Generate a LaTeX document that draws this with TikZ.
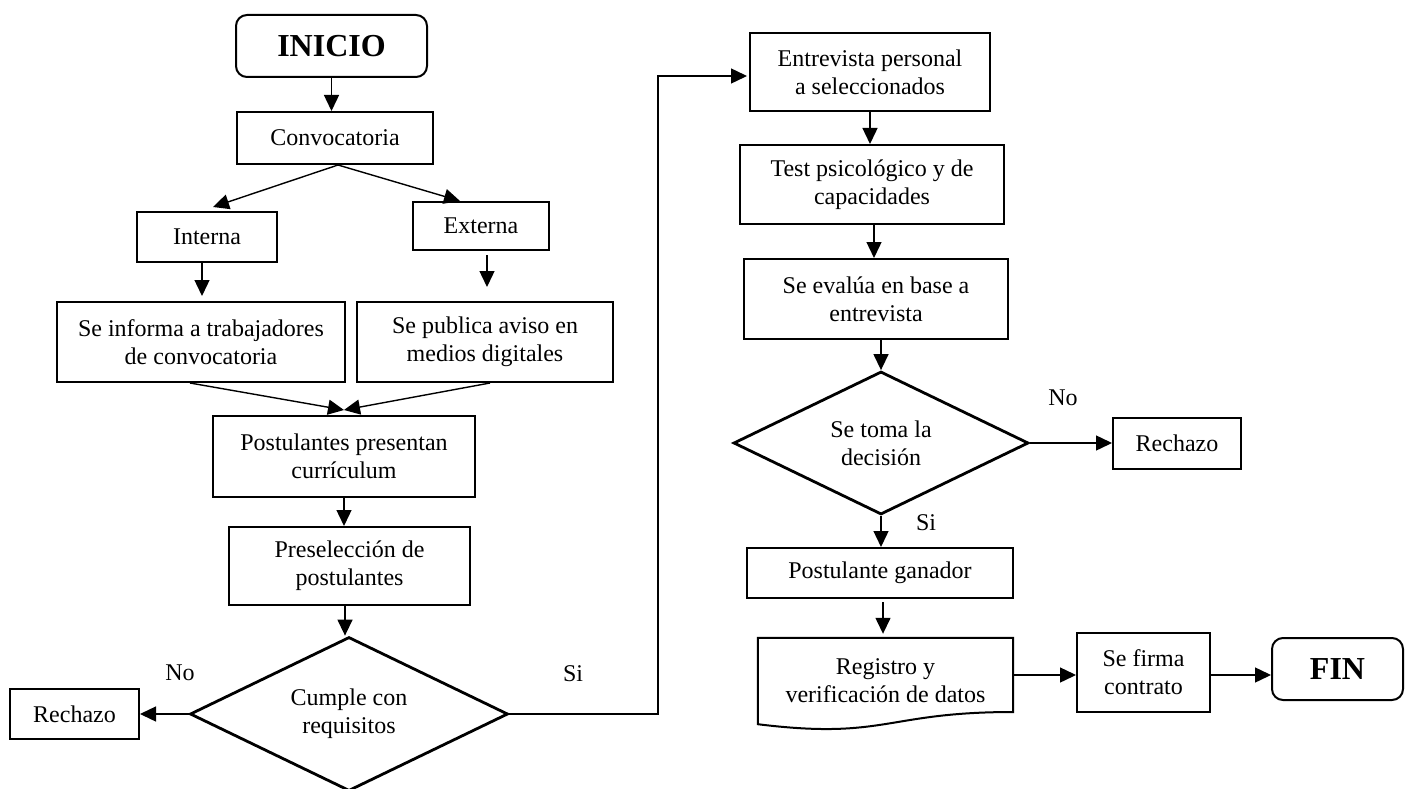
\documentclass[tikz,border=0pt]{standalone}
\usepackage{fontspec}
\setmainfont{Liberation Serif}
\usetikzlibrary{arrows.meta,shapes.geometric}

\begin{document}
\begin{tikzpicture}[x=1pt,y=-1pt,
  font=\fontsize{24}{28}\selectfont,
  proc/.style={draw, line width=2pt, inner sep=0pt, align=center},
  term/.style={draw, line width=2pt, rounded corners=11pt, inner sep=0pt,
               font=\fontsize{32}{36}\selectfont\bfseries},
  decis/.style={draw, diamond, aspect=2, line width=2.8pt, inner sep=0pt, align=center},
  conn/.style={line width=1.4pt, -{Triangle[length=16pt,width=15pt]}},
  lbl/.style={inner sep=0pt}]
\useasboundingbox (0,0) rectangle (1407,789);

% ---- left column ----
\node[term, minimum width=191pt, minimum height=62pt] (inicio) at (331.5,46) {INICIO};
\node[proc, minimum width=196pt, minimum height=52pt] (conv) at (335,138) {Convocatoria};
\node[proc, minimum width=140pt, minimum height=50pt] (interna) at (207,237) {Interna};
\node[proc, minimum width=136pt, minimum height=48pt] (externa) at (481,226) {Externa};
\node[proc, minimum width=288pt, minimum height=80pt] (informa) at (201,342)
  {Se informa a trabajadores\\de convocatoria};
\node[proc, minimum width=256pt, minimum height=80pt] (publica) at (485,342)
  {Se publica aviso en\\medios digitales};
\node[proc, minimum width=262pt, minimum height=81pt] (postul) at (344,456.5)
  {Postulantes presentan\\currículum};
\node[proc, minimum width=241pt, minimum height=78pt] (presel) at (349.5,566)
  {Preselección de\\postulantes};
\node[decis, minimum width=318pt, minimum height=154pt] (cumple) at (349,714)
  {Cumple con\\requisitos};
\node[proc, minimum width=129pt, minimum height=50pt] (rech1) at (74.5,714) {Rechazo};

% ---- right column ----
\node[proc, minimum width=240pt, minimum height=78pt] (entrev) at (870,72)
  {Entrevista personal\\a seleccionados};
\node[proc, minimum width=264pt, minimum height=79pt] (test) at (872,184.5)
  {Test psicológico y de\\capacidades};
\node[proc, minimum width=264pt, minimum height=80pt] (evalua) at (876,299)
  {Se evalúa en base a\\entrevista};
\node[decis, minimum width=295pt, minimum height=143pt] (decide) at (881,443)
  {Se toma la\\decisión};
\node[proc, minimum width=128pt, minimum height=51pt] (rech2) at (1177,443) {Rechazo};
\node[proc, minimum width=266pt, minimum height=50pt] (ganador) at (880,573)
  {Postulante ganador};
\node[inner sep=0pt, minimum width=255pt, minimum height=86pt, align=center]
  (registro) at (885.5,681) {Registro y\\verificación de datos};
\draw[line width=2pt, line join=miter]
  (registro.north west) -- (registro.north east) -- (1013,712)
  .. controls (885.5,712) and (885.5,740) .. (registro.south west) -- cycle;
\node[proc, minimum width=133pt, minimum height=79pt] (firma) at (1143.5,672.5)
  {Se firma\\contrato};
\node[term, minimum width=131pt, minimum height=62pt] (fin) at (1337.5,669) {FIN};

% ---- branch labels ----
\node[lbl] (no1) at (180,673) {No};
\node[lbl] (si1) at (573,674) {Si};
\node[lbl] (no2) at (1063,398) {No};
\node[lbl] (si2) at (926,523) {Si};

% ---- connectors ----
\draw[conn] (inicio.south) -- (inicio.south |- conv.north);
\draw[conn] ([xshift=3pt]conv.south) -- ([xshift=6pt,yshift=4pt]interna.north);
\draw[conn] ([xshift=3pt]conv.south) -- ([xshift=-21pt]externa.north);
\draw[conn, shorten >=5pt] ([xshift=-5pt]interna.south) -- ([xshift=-5pt]interna.south |- informa.north);
\draw[conn, shorten <=4pt, shorten >=14pt] ([xshift=6pt]externa.south) -- ([xshift=6pt]externa.south |- publica.north);
\draw[conn] ([xshift=-11pt]informa.south) -- ([yshift=5pt]postul.north);
\draw[conn] ([xshift=5pt]publica.south) -- ([yshift=5pt]postul.north);
\draw[conn] (postul.south) -- (postul.south |- presel.north);
\draw[conn] ([xshift=-4pt]cumple.north |- presel.south) -- ([xshift=-4pt]cumple.north);
\draw[conn] (cumple.west) -- (rech1.east);
\draw[conn] (cumple.east) -| ([xshift=-91pt,yshift=-4pt]entrev.west) -- ([xshift=-2pt,yshift=-4pt]entrev.west);

\draw[conn] (entrev.south) -- (entrev.south |- test.north);
\draw[conn] ([xshift=2pt]test.south) -- ([xshift=2pt]test.south |- evalua.north);
\draw[conn] (decide.north |- evalua.south) -- (decide.north);
\draw[conn] (decide.east) -- (rech2.west);
\draw[conn] (decide.south) -- (decide.south |- ganador.north);
\draw[conn, shorten <=3pt, shorten >=4pt] ([xshift=3pt]ganador.south) -- ([xshift=3pt]ganador.south |- registro.north);
\draw[conn] ([yshift=6pt]registro.east) -- ([yshift=6pt]registro.east -| firma.west);
\draw[conn] ([yshift=-2.5pt]firma.east) -- ([yshift=-2.5pt]firma.east -| fin.west);
\end{tikzpicture}
\end{document}
